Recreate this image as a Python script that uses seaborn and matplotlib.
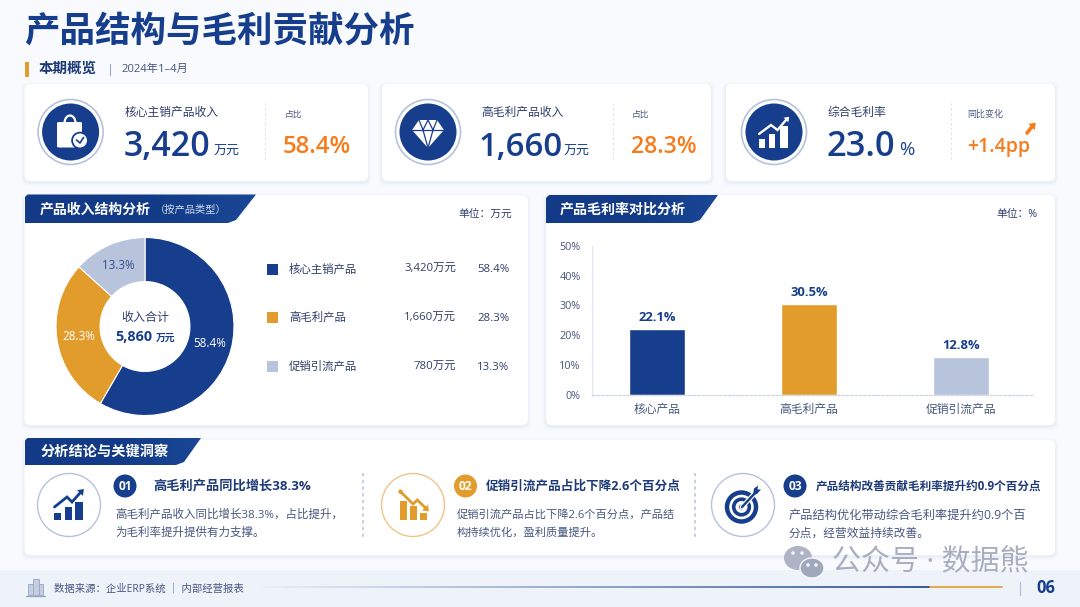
import numpy as np
import matplotlib
matplotlib.use("Agg")
import matplotlib.pyplot as plt
from matplotlib.patches import FancyBboxPatch, Circle, Polygon, Rectangle, Ellipse, Arc
from matplotlib.collections import LineCollection
import seaborn as sns

# chart data
products = ["核心主销产品", "高毛利产品", "促销引流产品"]
revenue = [3420, 1660, 780]
shares = [58.4, 28.3, 13.3]
margin_labels = ["核心产品", "高毛利产品", "促销引流产品"]
margin_values = [22.1, 30.5, 12.8]
margin_ticks = [0, 10, 20, 30, 40, 50]

NAVY = "#163E8C"
ORANGE = "#E29C2C"
LIGHT = "#B8C4DB"
BRIGHT = "#F57C1A"
INK = "#2F3F6C"
BODY = "#47577F"
palette = [NAVY, ORANGE, LIGHT]

W, H = 1080, 607

sns.set_theme(style="white")
plt.rcParams["font.family"] = ["Open Sans", "Noto Sans CJK SC", "DejaVu Sans"]

fig = plt.figure(figsize=(W / 100, H / 100), dpi=100, facecolor="#F8FAFD")
bg = fig.add_axes([0, 0, 1, 1], zorder=0)
bg.set_xlim(0, W)
bg.set_ylim(H, 0)
bg.axis("off")


def pxAxes(x0, y0, x1, y1):
    ax = fig.add_axes([x0 / W, 1 - y1 / H, (x1 - x0) / W, (y1 - y0) / H], zorder=2)
    ax.patch.set_alpha(0)
    return ax


def txt(x, y, s, px, color=INK, weight="normal", ha="left", **kw):
    return bg.text(x, y, s, fontsize=px * 0.72, color=color, fontweight=weight,
                   ha=ha, va="center", **kw)


def card(x0, y0, x1, y1):
    for grow, alpha in [(3.5, 0.10), (2, 0.16), (1, 0.22)]:
        bg.add_patch(FancyBboxPatch((x0 - grow, y0 - grow + 1.5), x1 - x0 + 2 * grow, y1 - y0 + 2 * grow,
                                    boxstyle="round,pad=0,rounding_size=7", fc="#D9E0EF", ec="none", alpha=alpha))
    bg.add_patch(FancyBboxPatch((x0, y0), x1 - x0, y1 - y0, boxstyle="round,pad=0,rounding_size=6",
                                fc="white", ec="none", zorder=1))


def tab(x0, y0, xTop, xBot, y1):
    # ribbon header, slightly lighter towards the right
    poly = Polygon([(x0, y0 + 3), (x0 + 3, y0), (xTop, y0), (xBot + 5, y1 - 3), (xBot - 3, y1), (x0, y1)],
                   closed=True, fc="none", ec="none", zorder=2)
    bg.add_patch(poly)
    grad = np.linspace(0, 1, 64).reshape(1, -1)
    cmap = matplotlib.colors.LinearSegmentedColormap.from_list("t", ["#143B88", "#123A86", "#1A4796"])
    im = bg.imshow(grad, extent=(x0, xTop, y1, y0), cmap=cmap, aspect="auto", zorder=2)
    im.set_clip_path(poly)
    bg.set_xlim(0, W)
    bg.set_ylim(H, 0)


def dashed(x, y0, y1, color, lw=1.0):
    bg.plot([x, x], [y0, y1], color=color, lw=lw, ls=(0, (2.2, 2.2)), zorder=3)


def badge(cx, cy, r, s, color):
    bg.add_patch(Circle((cx, cy), r, fc=color, ec="none", zorder=3))
    txt(cx, cy, s, 12, "white", "bold", "center", zorder=4)


def disc(cx, cy):
    bg.add_patch(Circle((cx, cy), 32.5, fc="white", ec="#B6C2DC", lw=1.2, zorder=3))
    bg.add_patch(Circle((cx, cy), 28.5, fc=NAVY, ec="none", zorder=3))


def ring(cx, cy, color):
    bg.add_patch(Circle((cx, cy), 31.5, fc="white", ec=color, lw=1.0, zorder=3))


def trend(points, color, lw=2.2):
    xs, ys = zip(*points)
    bg.plot(xs, ys, color=color, lw=lw, solid_joinstyle="miter", zorder=5)


def head(x, y, dx, dy, color, size=5.5):
    # little triangular arrow head pointing along dx, dy
    n = np.hypot(dx, dy)
    ux, uy = dx / n, dy / n
    tip = (x + ux * size, y + uy * size)
    a = (x - uy * size * 0.75, y + ux * size * 0.75)
    b = (x + uy * size * 0.75, y - ux * size * 0.75)
    bg.add_patch(Polygon([tip, a, b], fc=color, ec="none", zorder=5))


def bars(spec, bottom, color):
    for x0, x1, top in spec:
        bg.add_patch(Rectangle((x0, top), x1 - x0, bottom - top, fc=color, ec="none", zorder=5))


# KPI cards
card(24.5, 84, 368, 181)
card(382, 84, 711, 181)
card(726, 84, 1055, 181)

# main panels
card(24.5, 195, 528, 425)
card(546, 195, 1055, 425)
card(24.5, 440, 1055, 555)

# footer band
bg.add_patch(Rectangle((0, 569.5), W, 38, fc="#EEF2F9", ec="none", zorder=0.5))

# title row
txt(24, 33, "产品结构与毛利贡献分析", 35.5, NAVY, "bold")
bg.add_patch(Rectangle((24.5, 62), 4.5, 15, fc=ORANGE, ec="none"))
txt(39, 69, "本期概览", 14.5, "#1E3A78", "bold")
bg.plot([110, 110], [64, 75], color="#9AA6C0", lw=0.8)
txt(121, 69.5, "2024年1–4月", 11.2, BODY)

# KPI 1
disc(70.6, 132)
bg.add_patch(Arc((70, 123), 11, 15, theta1=180, theta2=360, color="white", lw=1.6, zorder=5))
bg.add_patch(FancyBboxPatch((57, 122), 25, 25.5, boxstyle="round,pad=0,rounding_size=1.5",
                            fc="white", ec="none", zorder=4))
bg.add_patch(Circle((80, 140.5), 8.8, fc=NAVY, ec="none", zorder=5))
bg.add_patch(Circle((80, 140.5), 7, fc="white", ec="none", zorder=5))
bg.plot([76.5, 80, 83.5], [140, 143, 137.5], color=NAVY, lw=1.2, zorder=6)
txt(125, 112, "核心主销产品收入", 11.8, INK, "medium")
txt(124, 147, "3,420", 34, NAVY, "semibold")
txt(213.5, 151, "万元", 13, NAVY, "medium")
dashed(265, 103, 160, "#DDE2EE", 0.8)
txt(285, 114, "占比", 8.8, BODY)
txt(283, 147, "58.4%", 24, BRIGHT, "semibold")

# KPI 2
disc(428, 132)
bg.add_patch(Polygon([(419, 120), (437, 120), (444, 130), (428, 148), (412, 130)], fc="white", ec="none", zorder=4))
for seg in [[(412, 130), (444, 130)], [(419, 120), (423, 130), (428, 148)], [(437, 120), (433, 130), (428, 148)],
            [(423, 130), (428, 120), (433, 130)]]:
    xs, ys = zip(*seg)
    bg.plot(xs, ys, color=NAVY, lw=0.9, zorder=5)
txt(481, 112, "高毛利产品收入", 11.8, INK, "medium")
txt(479, 147, "1,660", 33, NAVY, "semibold")
txt(564, 151, "万元", 13, NAVY, "medium")
dashed(613, 103, 160, "#DDE2EE", 0.8)
txt(632, 114, "占比", 8.8, BODY)
txt(630.5, 147, "28.3%", 23, BRIGHT, "semibold")

# KPI 3
disc(774, 132)
bars([(759, 765, 139), (769, 775, 134), (780, 788, 126)], 148, "white")
trend([(759, 134), (771, 125), (777.5, 130), (786, 120)], "white", 1.7)
head(786, 120, 1, -1, "white", 4.5)
txt(827.5, 112, "综合毛利率", 11.8, INK, "medium")
txt(826, 147, "23.0", 34.5, NAVY, "semibold")
txt(899.5, 150, "%", 18.5, NAVY, "medium")
dashed(950.5, 103, 160, "#DDE2EE", 0.8)
txt(967.5, 114, "同比变化", 9, BODY)
txt(967, 147, "+1.4pp", 19.5, BRIGHT, "semibold")
trend([(1027, 133), (1032.5, 126)], BRIGHT, 2.6)
head(1031.5, 127, 1, -1, BRIGHT, 6)

# revenue panel
tab(24.5, 194.5, 256, 231, 223)
txt(39.5, 209.5, "产品收入结构分析", 13.9, "white", "bold", zorder=4)
txt(155, 210.5, "（按产品类型）", 10.2, "#D3DCEE", zorder=4)
txt(512, 214, "单位：万元", 10.8, INK, "medium", "right")

axDonut = pxAxes(56, 237.5, 234, 415.5)
wedges, _, autotexts = axDonut.pie(revenue, colors=palette, startangle=90, counterclock=False, radius=1,
                                   autopct="%.1f%%", pctdistance=0.75,
                                   wedgeprops={"width": 0.495, "edgecolor": "white", "linewidth": 0.8},
                                   textprops={"fontsize": 8.4})
axDonut.set_xlim(-1, 1)
axDonut.set_ylim(-1, 1)
for at, c in zip(autotexts, ["white", "white", "#34508F"]):
    at.set_color(c)
txt(145, 317, "收入合计", 12, INK, "medium", "center", zorder=5)
txt(115, 337, f"{sum(revenue):,}", 14.4, NAVY, "bold", zorder=5)
txt(155.5, 338, "万元", 9.8, NAVY, "bold", zorder=5)

rows = [269.3, 317.7, 366.7]
for y, name, rev, share, c in zip(rows, products, revenue, shares, palette):
    bg.add_patch(Rectangle((267, y - 5.5), 11, 11, fc=c, ec="none"))
    txt(289, y + 0.5, name, 11.4, INK)
    txt(456, y + 0.5, f"{rev:,}万元", 11.4, INK, ha="right")
    txt(509.5, y + 0.5, f"{share}%", 11.4, INK, ha="right")

# margin panel
tab(546, 195, 718, 695, 223)
txt(560, 209.5, "产品毛利率对比分析", 14, "white", "bold", zorder=4)
txt(1038, 214, "单位：%", 10.8, INK, "medium", "right")

axBar = pxAxes(591.7, 245.7, 1031.7, 395)
sns.barplot(x=margin_labels, y=margin_values, hue=margin_labels, palette=palette, width=0.373,
            saturation=1, legend=False, ax=axBar)
axBar.set_xlim(-0.43, 2.465)
axBar.set_ylim(0, 50)
axBar.set_yticks(margin_ticks)
axBar.set_yticklabels([f"{t}%" for t in margin_ticks])
axBar.tick_params(axis="y", length=0, pad=8, labelsize=7.8, labelcolor=BODY)
axBar.tick_params(axis="x", length=0, pad=5.5, labelsize=8.5, labelcolor=BODY)
sns.despine(ax=axBar)
axBar.spines["left"].set_color("#E1E6F2")
axBar.spines["left"].set_linewidth(0.9)
axBar.spines["bottom"].set_color("#CCD4E8")
axBar.spines["bottom"].set_linewidth(0.9)
axBar.spines["bottom"].set_linestyle((0, (2, 1.5)))
axBar.set_xlabel("")
axBar.set_ylabel("")
for container in axBar.containers:
    axBar.bar_label(container, fmt="%.1f%%", padding=3.5, fontsize=9.4, fontweight="bold", color=NAVY)

# insights panel
tab(24.5, 438, 201, 179, 465)
txt(41, 452, "分析结论与关键洞察", 14.2, "white", "bold", zorder=4)

ring(69, 505, "#B6C2DC")
bars([(54, 61, 512.7), (64.5, 71.5, 507), (75, 82.5, 501.7)], 520, NAVY)
trend([(54.5, 507), (67, 497), (72, 502), (80, 493)], NAVY, 2.0)
head(80, 493, 1, -1, NAVY, 5.5)
badge(125, 486, 11.5, "01", NAVY)
txt(153, 486, "高毛利产品同比增长38.3%", 13.2, "#1E3A78", "bold")
txt(115, 515, "高毛利产品收入同比增长38.3%，占比提升，", 11.5, BODY)
txt(115, 533, "为毛利率提升提供有力支撑。", 11.5, BODY)
dashed(363, 473, 538, "#B6C2DC", 1.1)

ring(413, 505, "#F0C488")
bars([(399.5, 407, 500.7), (410, 417, 506), (420, 427, 512.7)], 520, ORANGE)
trend([(400.5, 491.7), (413, 504), (417.4, 500), (425, 507.5)], ORANGE, 2.0)
head(425, 507.5, 1, 1, ORANGE, 5.5)
bg.add_patch(Circle((400.5, 491.7), 2.2, fc=ORANGE, ec="none", zorder=5))
badge(465.5, 486, 11.5, "02", ORANGE)
txt(485.5, 486, "促销引流产品占比下降2.6个百分点", 12.6, "#1E3A78", "bold")
txt(457, 515, "促销引流产品占比下降2.6个百分点，产品结", 11.2, BODY)
txt(457, 533, "构持续优化，盈利质量提升。", 11.2, BODY)
dashed(694.6, 473, 538, "#B6C2DC", 1.1)

ring(743, 505, "#B6C2DC")
bg.add_patch(Circle((741.5, 507), 14.5, fc="none", ec=NAVY, lw=3.2, zorder=5))
bg.add_patch(Circle((741.5, 507), 7.8, fc="none", ec=NAVY, lw=2.6, zorder=5))
bg.add_patch(Circle((741.5, 507), 2.4, fc=NAVY, ec="none", zorder=5))
bg.plot([742, 756], [507, 492], color="white", lw=3.4, zorder=6)
bg.plot([742, 756], [507, 492], color=NAVY, lw=1.7, zorder=6)
bg.add_patch(Polygon([(753, 495), (754, 488.5), (758, 485.5), (757.5, 489.5), (761, 489.5), (757, 494)],
                     fc=NAVY, ec="none", zorder=6))
badge(795, 486, 11.5, "03", NAVY)
txt(815.5, 486, "产品结构改善贡献毛利率提升约0.9个百分点", 11.6, "#1E3A78", "bold")
txt(788.5, 515, "产品结构优化带动综合毛利率提升约0.9个百", 12.2, BODY)
txt(788.5, 533, "分点，经营效益持续改善。", 11.7, BODY)

# footer
for x0, x1, top in [(28, 33, 584), (33, 38.5, 579), (38.5, 43, 584)]:
    bg.add_patch(Rectangle((x0, top), x1 - x0, 595 - top, fc="#C5CEE0", ec="#9AA8C4", lw=0.6, zorder=1))
bg.plot([26, 44.5], [595.5, 595.5], color="#9AA8C4", lw=1.0, zorder=1)
txt(54, 589, "数据来源：企业ERP系统 ｜ 内部经营报表", 10.4, BODY)

xs = np.linspace(262, 930, 120)
segs = [[(a, 587), (b, 587)] for a, b in zip(xs[:-1], xs[1:])]
fade = [(0.086, 0.243, 0.549, a) for a in np.linspace(0.02, 1, len(segs))]
bg.add_collection(LineCollection(segs, colors=fade, linewidths=1.2, zorder=1))
bg.plot([930, 1002], [587, 587], color=ORANGE, lw=1.2, zorder=1)
bg.plot([1020, 1020], [582, 595], color="#B6C2DC", lw=0.9, zorder=1)
txt(1036, 588, "06", 16.5, NAVY, "bold")

# watermark
bg.add_patch(Ellipse((798, 558), 28, 24, fc="#AEB4C5", ec="none", zorder=7))
bg.add_patch(Ellipse((812, 568), 24, 20, fc="#A0A8BC", ec="#F4F6FA", lw=1.0, zorder=7))
for cx, cy in [(793, 553), (802, 553), (808, 565), (816, 565)]:
    bg.add_patch(Circle((cx, cy), 1.8, fc="#F4F6FA", ec="none", zorder=8))
txt(832, 562, "公众号 · 数据熊", 29, "#A8AEC0", zorder=7)

plt.savefig("out.png", dpi=100, facecolor=fig.get_facecolor())
plt.close("all")
